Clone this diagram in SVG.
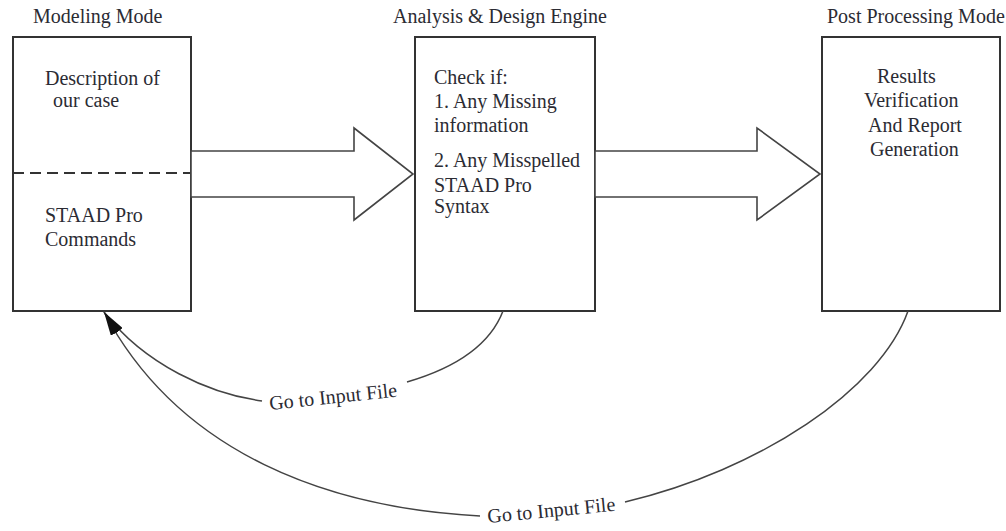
<svg xmlns="http://www.w3.org/2000/svg" width="1006" height="531" viewBox="0 0 1006 531">
<style>
text{font-family:"Liberation Serif","Times New Roman",serif;font-size:20px;fill:#2b2b33}
.box{fill:#fff;stroke:#333;stroke-width:2}
.big{fill:#fff;stroke:#444;stroke-width:1.6;stroke-linejoin:miter}
.con{fill:none;stroke:#444;stroke-width:1.5}
</style>
<defs>
<marker id="ah" viewBox="0 0 24 10" markerWidth="24" markerHeight="10" refX="24" refY="5" orient="auto" markerUnits="userSpaceOnUse">
<path d="M0,0 L24,5 L0,10 z" fill="#111"/>
</marker>
</defs>
<rect width="1006" height="531" fill="#fff"/>
<g id="titles">
<text x="33" y="23">Modeling Mode</text>
<text x="393" y="23">Analysis &amp; Design Engine</text>
<text x="827" y="23">Post Processing Mode</text>
</g>
<g id="modeling">
<rect class="box" x="13" y="37" width="178" height="274"/>
<line x1="13" y1="173" x2="191" y2="173" stroke="#333" stroke-width="2" stroke-dasharray="11,6"/>
<text x="45" y="85">Description of</text>
<text x="53" y="107">our case</text>
<text x="45" y="222">STAAD Pro</text>
<text x="45" y="246">Commands</text>
</g>
<g id="engine">
<rect class="box" x="415" y="37" width="180" height="274"/>
<text x="434" y="84">Check if:</text>
<text x="434" y="108">1. Any Missing</text>
<text x="434" y="132">information</text>
<text x="434" y="167">2. Any Misspelled</text>
<text x="434" y="192">STAAD Pro</text>
<text x="434" y="213">Syntax</text>
</g>
<g id="post">
<rect class="box" x="822" y="37" width="178" height="274"/>
<text x="877" y="83">Results</text>
<text x="864" y="107">Verification</text>
<text x="868" y="132">And Report</text>
<text x="870" y="156">Generation</text>
</g>
<g id="connectors">
<polygon class="big" points="191,151 354,151 354,128 413,174 354,220 354,197 191,197"/>
<polygon class="big" points="595,151 757,151 757,128 820,174 757,220 757,197 595,197"/>
<path class="con" d="M503,311 C490,345 455,368 407,382"/>
<path class="con" d="M262,401 C210,394 145,365 104,312" marker-end="url(#ah)"/>
<path class="con" d="M908,311 C880,390 760,470 625,502"/>
<path class="con" d="M480,516 C330,508 180,455 104,312" marker-end="url(#ah)"/>
<text x="270" y="410" transform="rotate(-6 270 410)">Go to Input File</text>
<text x="488" y="523" transform="rotate(-5.5 488 523)">Go to Input File</text>
</g>
</svg>
